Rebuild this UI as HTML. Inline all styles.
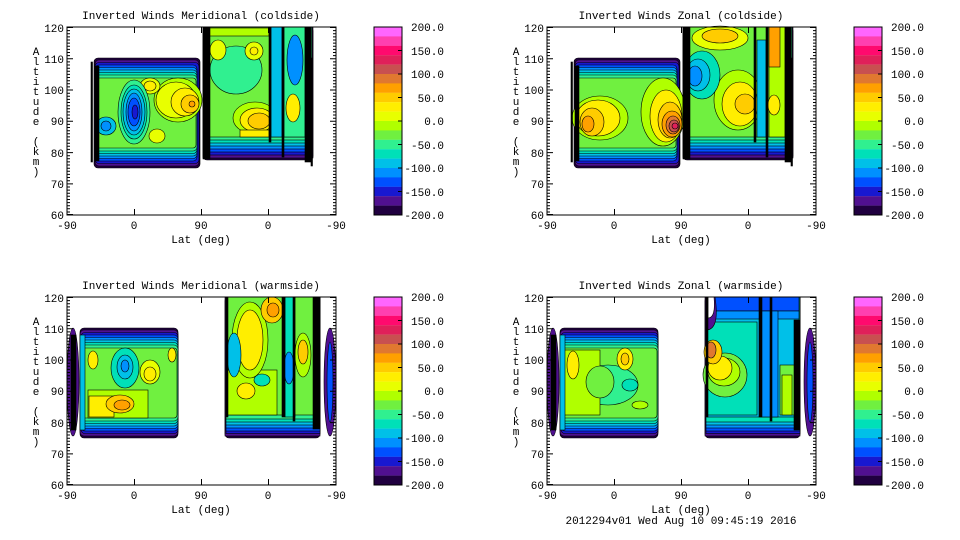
<!DOCTYPE html>
<html><head><meta charset="utf-8"><style>
html,body{margin:0;padding:0;background:#fff;}
svg{display:block;}
text{font-family:"Liberation Mono","DejaVu Sans Mono",monospace;font-size:11px;fill:#000;}
g.c rect, g.c ellipse, g.c path{stroke:#000;stroke-width:0.6;}
</style></head><body>
<svg width="960" height="540" viewBox="0 0 960 540" xmlns="http://www.w3.org/2000/svg">
<defs>
<g id="colorbar">
  <rect x="374" y="27.0" width="28" height="9.5" fill="#ff66ff"/>
  <rect x="374" y="36.4" width="28" height="9.5" fill="#ff40b0"/>
  <rect x="374" y="45.8" width="28" height="9.5" fill="#ff0a6e"/>
  <rect x="374" y="55.2" width="28" height="9.5" fill="#e0205a"/>
  <rect x="374" y="64.6" width="28" height="9.5" fill="#c85050"/>
  <rect x="374" y="74.0" width="28" height="9.5" fill="#e07830"/>
  <rect x="374" y="83.4" width="28" height="9.5" fill="#ffa000"/>
  <rect x="374" y="92.8" width="28" height="9.5" fill="#ffcc00"/>
  <rect x="374" y="102.2" width="28" height="9.5" fill="#ffee00"/>
  <rect x="374" y="111.6" width="28" height="9.5" fill="#e8ff00"/>
  <rect x="374" y="121.0" width="28" height="9.5" fill="#b0ff00"/>
  <rect x="374" y="130.4" width="28" height="9.5" fill="#70f040"/>
  <rect x="374" y="139.8" width="28" height="9.5" fill="#30f090"/>
  <rect x="374" y="149.2" width="28" height="9.5" fill="#00e0b8"/>
  <rect x="374" y="158.6" width="28" height="9.5" fill="#00c0e8"/>
  <rect x="374" y="168.0" width="28" height="9.5" fill="#0090ff"/>
  <rect x="374" y="177.4" width="28" height="9.5" fill="#0050ff"/>
  <rect x="374" y="186.8" width="28" height="9.5" fill="#1818d0"/>
  <rect x="374" y="196.2" width="28" height="9.5" fill="#501090"/>
  <rect x="374" y="205.6" width="28" height="9.4" fill="#200040"/>
  <rect x="374" y="27" width="28" height="188" fill="none" stroke="#000" stroke-width="1"/>
  <path d="M398 50.5H402M398 74H402M398 97.5H402M398 121H402M398 144.5H402M398 168H402M398 191.5H402" stroke="#000"/>
  <g text-anchor="end">
  <text x="444" y="31">200.0</text><text x="444" y="55">150.0</text><text x="444" y="78">100.0</text>
  <text x="444" y="102">50.0</text><text x="444" y="125">0.0</text><text x="444" y="149">-50.0</text>
  <text x="444" y="172">-100.0</text><text x="444" y="196">-150.0</text><text x="444" y="219">-200.0</text>
  </g>
</g>
<g id="axes">
  <rect x="67" y="27" width="269" height="188" fill="none" stroke="#000"/>
  <path d="M67 27.5h6M67 58.8h6M67 90h6M67 121.3h6M67 152.6h6M67 183.9h6M67 214.5h6M336 27.5h-6M336 58.8h-6M336 90h-6M336 121.3h-6M336 152.6h-6M336 183.9h-6M336 214.5h-6" stroke="#000"/>
  <path d="M67 30.6h3M67 33.7h3M67 36.9h3M67 40h3M67 43.1h3M67 46.3h3M67 49.4h3M67 52.5h3M67 55.6h3M67 61.9h3M67 65h3M67 68.2h3M67 71.3h3M67 74.4h3M67 77.5h3M67 80.7h3M67 83.8h3M67 86.9h3M67 93.2h3M67 96.3h3M67 99.4h3M67 102.5h3M67 105.7h3M67 108.8h3M67 111.9h3M67 115h3M67 118.2h3M67 124.4h3M67 127.5h3M67 130.7h3M67 133.8h3M67 136.9h3M67 140h3M67 143.2h3M67 146.3h3M67 149.4h3M67 155.7h3M67 158.8h3M67 161.9h3M67 165h3M67 168.2h3M67 171.3h3M67 174.4h3M67 177.5h3M67 180.7h3M67 187h3M67 190.1h3M67 193.2h3M67 196.3h3M67 199.5h3M67 202.6h3M67 205.7h3M67 208.8h3M67 212h3" stroke="#000"/>
  <path d="M336 30.6h-3M336 33.7h-3M336 36.9h-3M336 40h-3M336 43.1h-3M336 46.3h-3M336 49.4h-3M336 52.5h-3M336 55.6h-3M336 61.9h-3M336 65h-3M336 68.2h-3M336 71.3h-3M336 74.4h-3M336 77.5h-3M336 80.7h-3M336 83.8h-3M336 86.9h-3M336 93.2h-3M336 96.3h-3M336 99.4h-3M336 102.5h-3M336 105.7h-3M336 108.8h-3M336 111.9h-3M336 115h-3M336 118.2h-3M336 124.4h-3M336 127.5h-3M336 130.7h-3M336 133.8h-3M336 136.9h-3M336 140h-3M336 143.2h-3M336 146.3h-3M336 149.4h-3M336 155.7h-3M336 158.8h-3M336 161.9h-3M336 165h-3M336 168.2h-3M336 171.3h-3M336 174.4h-3M336 177.5h-3M336 180.7h-3M336 187h-3M336 190.1h-3M336 193.2h-3M336 196.3h-3M336 199.5h-3M336 202.6h-3M336 205.7h-3M336 208.8h-3M336 212h-3" stroke="#000"/>
  <path d="M134.5 215v-6M201.5 215v-6M268.5 215v-6M134.5 27v6M201.5 27v6M268.5 27v6" stroke="#000"/>
  <g text-anchor="end">
  <text x="64" y="32">120</text><text x="64" y="63">110</text><text x="64" y="94">100</text>
  <text x="64" y="125">90</text><text x="64" y="157">80</text><text x="64" y="188">70</text><text x="64" y="219">60</text>
  </g>
  <g text-anchor="middle">
  <text x="67" y="229">-90</text><text x="134" y="229">0</text><text x="201" y="229">90</text>
  <text x="268" y="229">0</text><text x="336" y="229">-90</text>
  <text x="201" y="243">Lat (deg)</text>
  <text x="36" y="55">A</text><text x="36" y="65">l</text><text x="36" y="75">t</text><text x="36" y="85">i</text>
  <text x="36" y="95">t</text><text x="36" y="105">u</text><text x="36" y="115">d</text><text x="36" y="125">e</text>
  <text x="36" y="145">(</text><text x="36" y="155">k</text><text x="36" y="165">m</text><text x="36" y="175">)</text>
  </g>
  <use href="#colorbar"/>
</g>
</defs>

<!-- ================= TOP LEFT ================= -->
<g class="c">
 <text x="201" y="19" text-anchor="middle">Inverted Winds Meridional (coldside)</text>
 <rect x="94" y="58" width="106" height="110" rx="4" fill="#200040"/>
 <rect x="95" y="60" width="104" height="106" rx="4" fill="#501090"/>
 <rect x="95" y="62.5" width="104" height="101" rx="4" fill="#1818d0"/>
 <rect x="95" y="65" width="102" height="96" rx="4" fill="#0050ff"/>
 <rect x="95" y="67.5" width="102" height="91" rx="4" fill="#0090ff"/>
 <rect x="95" y="70" width="102" height="86" rx="4" fill="#00c0e8"/>
 <rect x="95" y="72.5" width="102" height="81" rx="4" fill="#00e0b8"/>
 <rect x="95" y="75" width="102" height="76" rx="4" fill="#30f090"/>
 <rect x="96" y="78" width="100" height="70" rx="3" fill="#70f040"/>
 <ellipse cx="178" cy="100" rx="24" ry="22" fill="#b0ff00"/>
 <ellipse cx="176" cy="100" rx="20" ry="18" fill="#e8ff00"/>
 <ellipse cx="185" cy="102" rx="14" ry="14" fill="#ffee00"/>
 <ellipse cx="190" cy="104" rx="9" ry="9" fill="#ffcc00"/>
 <ellipse cx="192" cy="104" rx="3" ry="3" fill="#ffa000"/>
 <ellipse cx="150" cy="86" rx="10" ry="8" fill="#e8ff00"/>
 <ellipse cx="150" cy="86" rx="6" ry="5" fill="#ffee00"/>
 <ellipse cx="157" cy="136" rx="8" ry="7" fill="#e8ff00"/>
 <ellipse cx="134" cy="112" rx="16" ry="32" fill="#30f090"/>
 <ellipse cx="134" cy="112" rx="13" ry="27" fill="#00e0b8"/>
 <ellipse cx="134" cy="112" rx="11" ry="23" fill="#00c0e8"/>
 <ellipse cx="134" cy="112" rx="8" ry="19" fill="#0090ff"/>
 <ellipse cx="134" cy="112" rx="6" ry="14" fill="#0050ff"/>
 <ellipse cx="135" cy="112" rx="3" ry="7" fill="#1818d0"/>
 <ellipse cx="106" cy="126" rx="10" ry="9" fill="#00c0e8"/>
 <ellipse cx="106" cy="126" rx="5" ry="5" fill="#0090ff"/>
 <rect x="95" y="66" width="4" height="95" fill="#000"/>
 <rect x="91" y="62" width="1.5" height="100" fill="#000"/>
 <rect x="203" y="27" width="110" height="133" rx="4" fill="#200040"/>
 <rect x="203" y="27" width="110" height="131" fill="#501090"/>
 <rect x="204" y="27" width="108" height="128" fill="#1818d0"/>
 <rect x="204" y="27" width="108" height="125" fill="#0050ff"/>
 <rect x="204" y="27" width="108" height="122" fill="#0090ff"/>
 <rect x="204" y="27" width="108" height="119" fill="#00c0e8"/>
 <rect x="204" y="27" width="108" height="116" fill="#00e0b8"/>
 <rect x="204" y="27" width="108" height="113" fill="#30f090"/>
 <rect x="205" y="27" width="106" height="110" fill="#70f040"/>
 <rect x="205" y="28" width="64" height="8" fill="#b0ff00"/>
 <ellipse cx="236" cy="70" rx="26" ry="24" fill="#30f090"/>
 <ellipse cx="218" cy="50" rx="8" ry="10" fill="#e8ff00"/>
 <ellipse cx="254" cy="51" rx="9" ry="9" fill="#e8ff00"/>
 <ellipse cx="254" cy="51" rx="4" ry="4" fill="#ffee00"/>
 <ellipse cx="255" cy="118" rx="22" ry="16" fill="#b0ff00"/>
 <ellipse cx="257" cy="120" rx="17" ry="12" fill="#ffee00"/>
 <ellipse cx="259" cy="121" rx="11" ry="8" fill="#ffcc00"/>
 <rect x="240" y="130" width="29" height="7" fill="#ffee00"/>
 <rect x="271" y="27" width="11" height="110" fill="#00c0e8"/>
 <rect x="284" y="27" width="21" height="110" fill="#30f090"/>
 <ellipse cx="295" cy="60" rx="8" ry="25" fill="#0090ff"/>
 <ellipse cx="293" cy="108" rx="7" ry="14" fill="#ffee00"/>
 <rect x="203" y="27" width="7" height="132" fill="#000"/>
 <rect x="269" y="27" width="2" height="115" fill="#000"/>
 <rect x="282" y="27" width="2" height="130" fill="#000"/>
 <rect x="305" y="27" width="6" height="135" fill="#000"/>
 <rect x="311" y="58" width="1.5" height="108" fill="#000"/>
 <use href="#axes"/>
</g>

<!-- ================= TOP RIGHT ================= -->
<g class="c" transform="translate(480,0)">
 <text x="201" y="19" text-anchor="middle">Inverted Winds Zonal (coldside)</text>
 <rect x="94" y="58" width="106" height="110" rx="4" fill="#200040"/>
 <rect x="95" y="60" width="104" height="106" rx="4" fill="#501090"/>
 <rect x="95" y="62.5" width="104" height="101" rx="4" fill="#1818d0"/>
 <rect x="95" y="65" width="102" height="96" rx="4" fill="#0050ff"/>
 <rect x="95" y="67.5" width="102" height="91" rx="4" fill="#0090ff"/>
 <rect x="95" y="70" width="102" height="86" rx="4" fill="#00c0e8"/>
 <rect x="95" y="72.5" width="102" height="81" rx="4" fill="#00e0b8"/>
 <rect x="95" y="75" width="102" height="76" rx="4" fill="#30f090"/>
 <rect x="96" y="78" width="100" height="70" rx="3" fill="#70f040"/>
 <ellipse cx="120" cy="118" rx="28" ry="22" fill="#b0ff00"/>
 <ellipse cx="118" cy="118" rx="22" ry="18" fill="#ffee00"/>
 <ellipse cx="112" cy="122" rx="12" ry="14" fill="#ffcc00"/>
 <ellipse cx="108" cy="124" rx="6" ry="8" fill="#ffa000"/>
 <ellipse cx="183" cy="112" rx="22" ry="34" fill="#b0ff00"/>
 <ellipse cx="186" cy="116" rx="16" ry="26" fill="#ffee00"/>
 <ellipse cx="190" cy="120" rx="12" ry="18" fill="#ffcc00"/>
 <ellipse cx="192" cy="124" rx="10" ry="13" fill="#ffa000"/>
 <ellipse cx="193" cy="125" rx="7" ry="9" fill="#e07830"/>
 <ellipse cx="194" cy="126" rx="5" ry="6" fill="#c85050"/>
 <ellipse cx="195" cy="126" rx="3" ry="3" fill="#e0205a"/>
 <rect x="95" y="66" width="4" height="95" fill="#000"/>
 <rect x="91" y="62" width="1.5" height="100" fill="#000"/>
 <rect x="203" y="27" width="110" height="133" rx="4" fill="#200040"/>
 <rect x="203" y="27" width="110" height="131" fill="#501090"/>
 <rect x="204" y="27" width="108" height="128" fill="#1818d0"/>
 <rect x="204" y="27" width="108" height="125" fill="#0050ff"/>
 <rect x="204" y="27" width="108" height="122" fill="#0090ff"/>
 <rect x="204" y="27" width="108" height="119" fill="#00c0e8"/>
 <rect x="204" y="27" width="108" height="116" fill="#00e0b8"/>
 <rect x="204" y="27" width="108" height="113" fill="#30f090"/>
 <rect x="205" y="27" width="106" height="110" fill="#70f040"/>
 <ellipse cx="240" cy="38" rx="28" ry="12" fill="#e8ff00"/>
 <ellipse cx="240" cy="36" rx="18" ry="7" fill="#ffcc00"/>
 <ellipse cx="258" cy="100" rx="24" ry="30" fill="#b0ff00"/>
 <ellipse cx="260" cy="104" rx="18" ry="22" fill="#ffee00"/>
 <ellipse cx="265" cy="104" rx="10" ry="10" fill="#ffcc00"/>
 <ellipse cx="222" cy="75" rx="18" ry="24" fill="#00e0b8"/>
 <ellipse cx="218" cy="75" rx="12" ry="16" fill="#00c0e8"/>
 <ellipse cx="215" cy="76" rx="7" ry="10" fill="#0090ff"/>
 <rect x="277" y="40" width="9" height="97" fill="#00c0e8"/>
 <rect x="289" y="27" width="16" height="110" fill="#b0ff00"/>
 <rect x="289" y="27" width="11" height="40" fill="#ffa000"/>
 <ellipse cx="294" cy="105" rx="6" ry="10" fill="#ffee00"/>
 <rect x="203" y="27" width="7" height="132" fill="#000"/>
 <rect x="274" y="27" width="2" height="115" fill="#000"/>
 <rect x="286" y="27" width="2" height="130" fill="#000"/>
 <rect x="305" y="27" width="6" height="135" fill="#000"/>
 <rect x="311" y="58" width="1.5" height="108" fill="#000"/>
 <use href="#axes"/>
</g>

<!-- ================= BOTTOM LEFT ================= -->
<g class="c" transform="translate(0,270)">
 <text x="201" y="19" text-anchor="middle">Inverted Winds Meridional (warmside)</text>
 <ellipse cx="73" cy="112" rx="6" ry="54" fill="#501090"/>
 <rect x="71" y="65" width="5" height="95" fill="#000"/>
 <rect x="80" y="58" width="98" height="110" rx="4" fill="#200040"/>
 <rect x="80" y="60" width="98" height="106" rx="4" fill="#501090"/>
 <rect x="81" y="62.5" width="97" height="101" rx="4" fill="#1818d0"/>
 <rect x="81" y="65" width="97" height="96" rx="4" fill="#0050ff"/>
 <rect x="81" y="67.5" width="97" height="91" rx="4" fill="#0090ff"/>
 <rect x="81" y="70" width="97" height="86" rx="4" fill="#00c0e8"/>
 <rect x="81" y="72.5" width="97" height="81" rx="4" fill="#00e0b8"/>
 <rect x="81" y="75" width="97" height="76" rx="4" fill="#30f090"/>
 <rect x="82" y="78" width="95" height="70" rx="3" fill="#70f040"/>
 <rect x="88" y="120" width="60" height="28" fill="#b0ff00"/>
 <rect x="89" y="126" width="25" height="21" fill="#ffee00"/>
 <ellipse cx="120" cy="134" rx="14" ry="9" fill="#ffcc00"/>
 <ellipse cx="122" cy="135" rx="8" ry="5" fill="#ffa000"/>
 <ellipse cx="125" cy="98" rx="14" ry="20" fill="#00e0b8"/>
 <ellipse cx="125" cy="97" rx="8" ry="12" fill="#00c0e8"/>
 <ellipse cx="125" cy="96" rx="4" ry="6" fill="#0090ff"/>
 <ellipse cx="150" cy="102" rx="10" ry="12" fill="#e8ff00"/>
 <ellipse cx="150" cy="104" rx="6" ry="7" fill="#ffee00"/>
 <ellipse cx="93" cy="90" rx="5" ry="9" fill="#ffee00"/>
 <ellipse cx="172" cy="85" rx="4" ry="7" fill="#ffee00"/>
 <rect x="80" y="65" width="5" height="95" fill="#00c0e8"/>
 <rect x="225" y="27" width="95" height="141" rx="4" fill="#200040"/>
 <rect x="225" y="27" width="95" height="139" fill="#501090"/>
 <rect x="226" y="27" width="94" height="136.5" fill="#1818d0"/>
 <rect x="226" y="27" width="94" height="134" fill="#0050ff"/>
 <rect x="226" y="27" width="94" height="131" fill="#0090ff"/>
 <rect x="226" y="27" width="94" height="128" fill="#00c0e8"/>
 <rect x="226" y="27" width="94" height="125" fill="#00e0b8"/>
 <rect x="226" y="27" width="94" height="122" fill="#30f090"/>
 <rect x="227" y="27" width="92" height="118" fill="#70f040"/>
 <rect x="227" y="100" width="50" height="45" fill="#b0ff00"/>
 <ellipse cx="250" cy="70" rx="18" ry="38" fill="#b0ff00"/>
 <ellipse cx="250" cy="70" rx="13" ry="30" fill="#ffee00"/>
 <ellipse cx="272" cy="40" rx="11" ry="13" fill="#ffcc00"/>
 <ellipse cx="273" cy="40" rx="6" ry="7" fill="#ffa000"/>
 <ellipse cx="246" cy="121" rx="9" ry="8" fill="#ffee00"/>
 <ellipse cx="234" cy="85" rx="7" ry="22" fill="#00c0e8"/>
 <ellipse cx="262" cy="110" rx="8" ry="6" fill="#00e0b8"/>
 <rect x="285" y="27" width="10" height="120" fill="#00e0b8"/>
 <ellipse cx="289" cy="98" rx="5" ry="16" fill="#0090ff"/>
 <ellipse cx="303" cy="85" rx="8" ry="22" fill="#b0ff00"/>
 <ellipse cx="303" cy="82" rx="5" ry="12" fill="#ffcc00"/>
 <rect x="282" y="27" width="3" height="120" fill="#000"/>
 <rect x="293" y="27" width="2" height="124" fill="#000"/>
 <rect x="313" y="27" width="7" height="132" fill="#000"/>
 <rect x="226" y="27" width="2" height="120" fill="#000"/>
 <ellipse cx="330" cy="112" rx="6" ry="54" fill="#501090"/>
 <ellipse cx="330" cy="112" rx="3" ry="40" fill="#0050ff"/>
 <use href="#axes"/>
</g>

<!-- ================= BOTTOM RIGHT ================= -->
<g class="c" transform="translate(480,270)">
 <text x="201" y="19" text-anchor="middle">Inverted Winds Zonal (warmside)</text>
 <ellipse cx="73" cy="112" rx="6" ry="54" fill="#501090"/>
 <rect x="71" y="65" width="5" height="95" fill="#000"/>
 <rect x="80" y="58" width="98" height="110" rx="4" fill="#200040"/>
 <rect x="80" y="60" width="98" height="106" rx="4" fill="#501090"/>
 <rect x="81" y="62.5" width="97" height="101" rx="4" fill="#1818d0"/>
 <rect x="81" y="65" width="97" height="96" rx="4" fill="#0050ff"/>
 <rect x="81" y="67.5" width="97" height="91" rx="4" fill="#0090ff"/>
 <rect x="81" y="70" width="97" height="86" rx="4" fill="#00c0e8"/>
 <rect x="81" y="72.5" width="97" height="81" rx="4" fill="#00e0b8"/>
 <rect x="81" y="75" width="97" height="76" rx="4" fill="#30f090"/>
 <rect x="82" y="78" width="95" height="70" rx="3" fill="#70f040"/>
 <ellipse cx="128" cy="115" rx="30" ry="20" fill="#30f090"/>
 <ellipse cx="150" cy="115" rx="8" ry="6" fill="#00e0b8"/>
 <rect x="84" y="80" width="36" height="65" fill="#b0ff00"/>
 <ellipse cx="120" cy="112" rx="14" ry="16" fill="#70f040"/>
 <ellipse cx="93" cy="95" rx="6" ry="14" fill="#ffee00"/>
 <ellipse cx="145" cy="89" rx="8" ry="11" fill="#ffee00"/>
 <ellipse cx="145" cy="89" rx="4" ry="6" fill="#ffcc00"/>
 <ellipse cx="160" cy="135" rx="8" ry="4" fill="#b0ff00"/>
 <rect x="80" y="65" width="5" height="95" fill="#00c0e8"/>
 <rect x="225" y="27" width="95" height="141" rx="4" fill="#200040"/>
 <rect x="225" y="27" width="95" height="139" fill="#501090"/>
 <rect x="226" y="27" width="94" height="136.5" fill="#1818d0"/>
 <rect x="226" y="27" width="94" height="134" fill="#0050ff"/>
 <rect x="226" y="27" width="94" height="131" fill="#0090ff"/>
 <rect x="226" y="27" width="94" height="128" fill="#00c0e8"/>
 <rect x="226" y="27" width="94" height="125" fill="#00e0b8"/>
 <rect x="227" y="27" width="92" height="120" fill="#00c0e8"/>
 <rect x="227" y="27" width="92" height="14" fill="#0050ff"/>
 <rect x="227" y="41" width="92" height="8" fill="#0090ff"/>
 <rect x="227" y="52" width="50" height="93" fill="#00e0b8"/>
 <ellipse cx="245" cy="105" rx="22" ry="22" fill="#70f040"/>
 <ellipse cx="244" cy="102" rx="16" ry="14" fill="#b0ff00"/>
 <ellipse cx="240" cy="98" rx="12" ry="12" fill="#ffee00"/>
 <ellipse cx="233" cy="82" rx="9" ry="12" fill="#ffcc00"/>
 <ellipse cx="231" cy="80" rx="5" ry="8" fill="#e07830"/>
 <rect x="280" y="41" width="18" height="106" fill="#0090ff"/>
 <rect x="300" y="95" width="15" height="50" fill="#70f040"/>
 <rect x="302" y="105" width="10" height="40" fill="#b0ff00"/>
 <path d="M226 27 L235 27 Q240 60 226 60 Z" fill="#501090"/>
 <path d="M228 27 L234 27 Q236 48 228 48 Z" fill="#ffffff"/>
 <rect x="279" y="27" width="3" height="120" fill="#000"/>
 <rect x="290" y="27" width="2" height="124" fill="#000"/>
 <rect x="314" y="50" width="6" height="110" fill="#000"/>
 <rect x="226" y="27" width="2" height="120" fill="#000"/>
 <ellipse cx="330" cy="112" rx="6" ry="54" fill="#501090"/>
 <ellipse cx="330" cy="112" rx="3" ry="40" fill="#0050ff"/>
 <use href="#axes"/>
 <text x="201" y="254" text-anchor="middle">2012294v01 Wed Aug 10 09:45:19 2016</text>
</g>
</svg>
</body></html>
